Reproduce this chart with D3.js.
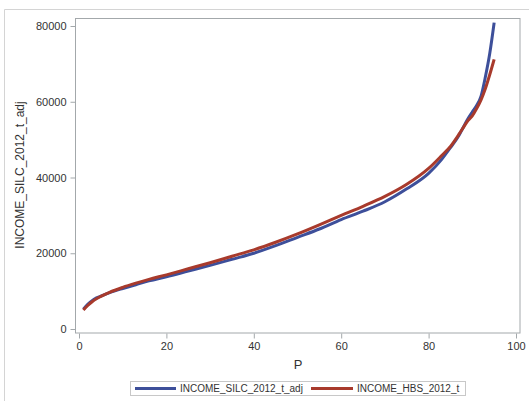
<!DOCTYPE html>
<html>
<head>
<meta charset="utf-8">
<script src="https://cdn.jsdelivr.net/npm/d3@7"></script>
<style>
  body { margin: 0; background: #fff; }
  svg { display: block; }
</style>
</head>
<body>
<div id="chart"></div>
<script>
// percentiles
const pSilc = [1, 2, 3, 4, 5, 7, 10, 13, 16, 20, 25, 30, 35, 40, 45, 50, 55, 60, 65, 70, 75, 80, 83, 85, 87, 88, 89, 90, 91, 92, 93, 94, 95];
const silc = [5200, 6500, 7500, 8200, 8700, 9600, 10700, 11700, 12700, 13800, 15300, 16800, 18400, 20000, 22000, 24200, 26400, 28900, 31100, 33600, 37000, 41100, 44800, 47900, 51200, 53400, 55500, 57300, 59000, 61500, 66600, 72800, 80900];

const pHbs = [1, 2, 3, 4, 5, 7, 10, 13, 16, 20, 25, 30, 35, 40, 45, 50, 55, 60, 65, 70, 75, 80, 83, 85, 87, 88, 89, 90, 91, 92, 93, 94, 95];
const hbs = [5000, 6200, 7200, 8000, 8600, 9700, 11000, 12100, 13100, 14300, 15900, 17500, 19200, 20900, 22900, 25100, 27500, 30000, 32400, 35000, 38200, 42400, 45800, 48200, 51500, 53300, 55000, 56300, 58200, 60500, 63500, 67200, 71200];

const xTicks = [0, 20, 40, 60, 80, 100];
const yTicks = [0, 20000, 40000, 60000, 80000];

const seriesNames = ["INCOME_SILC_2012_t_adj", "INCOME_HBS_2012_t"];
const seriesColors = ["#3d4f9a", "#a83a2c"];

const font = "'Liberation Sans', Arial, sans-serif";

const svg = d3.select("#chart")
  .append("svg")
  .attr("width", 529)
  .attr("height", 401);

svg.append("rect")
  .attr("width", 529)
  .attr("height", 401)
  .attr("fill", "#fff");

// outer graph border
svg.append("path")
  .attr("d", "M4.5,401 V9.5 H529")
  .attr("fill", "none")
  .attr("stroke", "#d4d4d4")
  .attr("stroke-width", 1);

const xScale = d3.scaleLinear()
  .domain([0, 100])
  .range([79, 516]);

const yScale = d3.scaleLinear()
  .domain([0, 80000])
  .range([329, 26]);

// plot frame
svg.append("rect")
  .attr("x", 75.5)
  .attr("y", 18.5)
  .attr("width", 444.5)
  .attr("height", 314.5)
  .attr("fill", "none")
  .attr("stroke", "#a3a8ab")
  .attr("stroke-width", 1);

// x axis
const xAxisGroup = svg.append("g")
  .attr("transform", "translate(0,333.5)")
  .call(d3.axisBottom(xScale).tickValues(xTicks).tickSize(5).tickPadding(4));

xAxisGroup.select(".domain").remove();
xAxisGroup.selectAll(".tick line").attr("stroke", "#a3a8ab");
xAxisGroup.selectAll(".tick text")
  .attr("fill", "#333")
  .attr("font-size", 11)
  .attr("font-family", font);

// y axis
const yAxisGroup = svg.append("g")
  .attr("transform", "translate(75.5,0)")
  .call(d3.axisLeft(yScale).tickValues(yTicks).tickSize(5).tickPadding(4).tickFormat(d3.format("d")));

yAxisGroup.select(".domain").remove();
yAxisGroup.selectAll(".tick line").attr("stroke", "#a3a8ab");
yAxisGroup.selectAll(".tick text")
  .attr("fill", "#333")
  .attr("font-size", 11)
  .attr("font-family", font);

// axis titles
svg.append("text")
  .text("P")
  .attr("x", 298)
  .attr("y", 369)
  .attr("text-anchor", "middle")
  .attr("fill", "#333")
  .attr("font-size", 13)
  .attr("font-family", font);

svg.append("text")
  .text("INCOME_SILC_2012_t_adj")
  .attr("transform", "translate(24,175) rotate(-90)")
  .attr("text-anchor", "middle")
  .attr("fill", "#333")
  .attr("font-size", 12)
  .attr("font-family", font);

// lines
const line = d3.line()
  .x(d => xScale(d[0]))
  .y(d => yScale(d[1]))
  .curve(d3.curveMonotoneX);

const silcData = pSilc.map((p, i) => [p, silc[i]]);
const hbsData = pHbs.map((p, i) => [p, hbs[i]]);

const plot = svg.append("g");

plot.append("path")
  .datum(silcData)
  .attr("d", line)
  .attr("fill", "none")
  .attr("stroke", seriesColors[0])
  .attr("stroke-width", 3);

plot.append("path")
  .datum(hbsData)
  .attr("d", line)
  .attr("fill", "none")
  .attr("stroke", seriesColors[1])
  .attr("stroke-width", 3);

// legend
const legend = svg.append("g");

legend.append("rect")
  .attr("x", 130.5)
  .attr("y", 381.5)
  .attr("width", 335)
  .attr("height", 14)
  .attr("fill", "#fff")
  .attr("stroke", "#c8c8c8");

const legendItems = [
  { x0: 135, x1: 176, tx: 180 },
  { x0: 311, x1: 353, tx: 357 }
];

legendItems.forEach((it, i) => {
  legend.append("line")
    .attr("x1", it.x0)
    .attr("x2", it.x1)
    .attr("y1", 388.5)
    .attr("y2", 388.5)
    .attr("stroke", seriesColors[i])
    .attr("stroke-width", 3);
  legend.append("text")
    .text(seriesNames[i])
    .attr("x", it.tx)
    .attr("y", 392)
    .attr("fill", "#333")
    .attr("font-size", 10)
    .attr("font-family", font);
});
</script>
</body>
</html>
